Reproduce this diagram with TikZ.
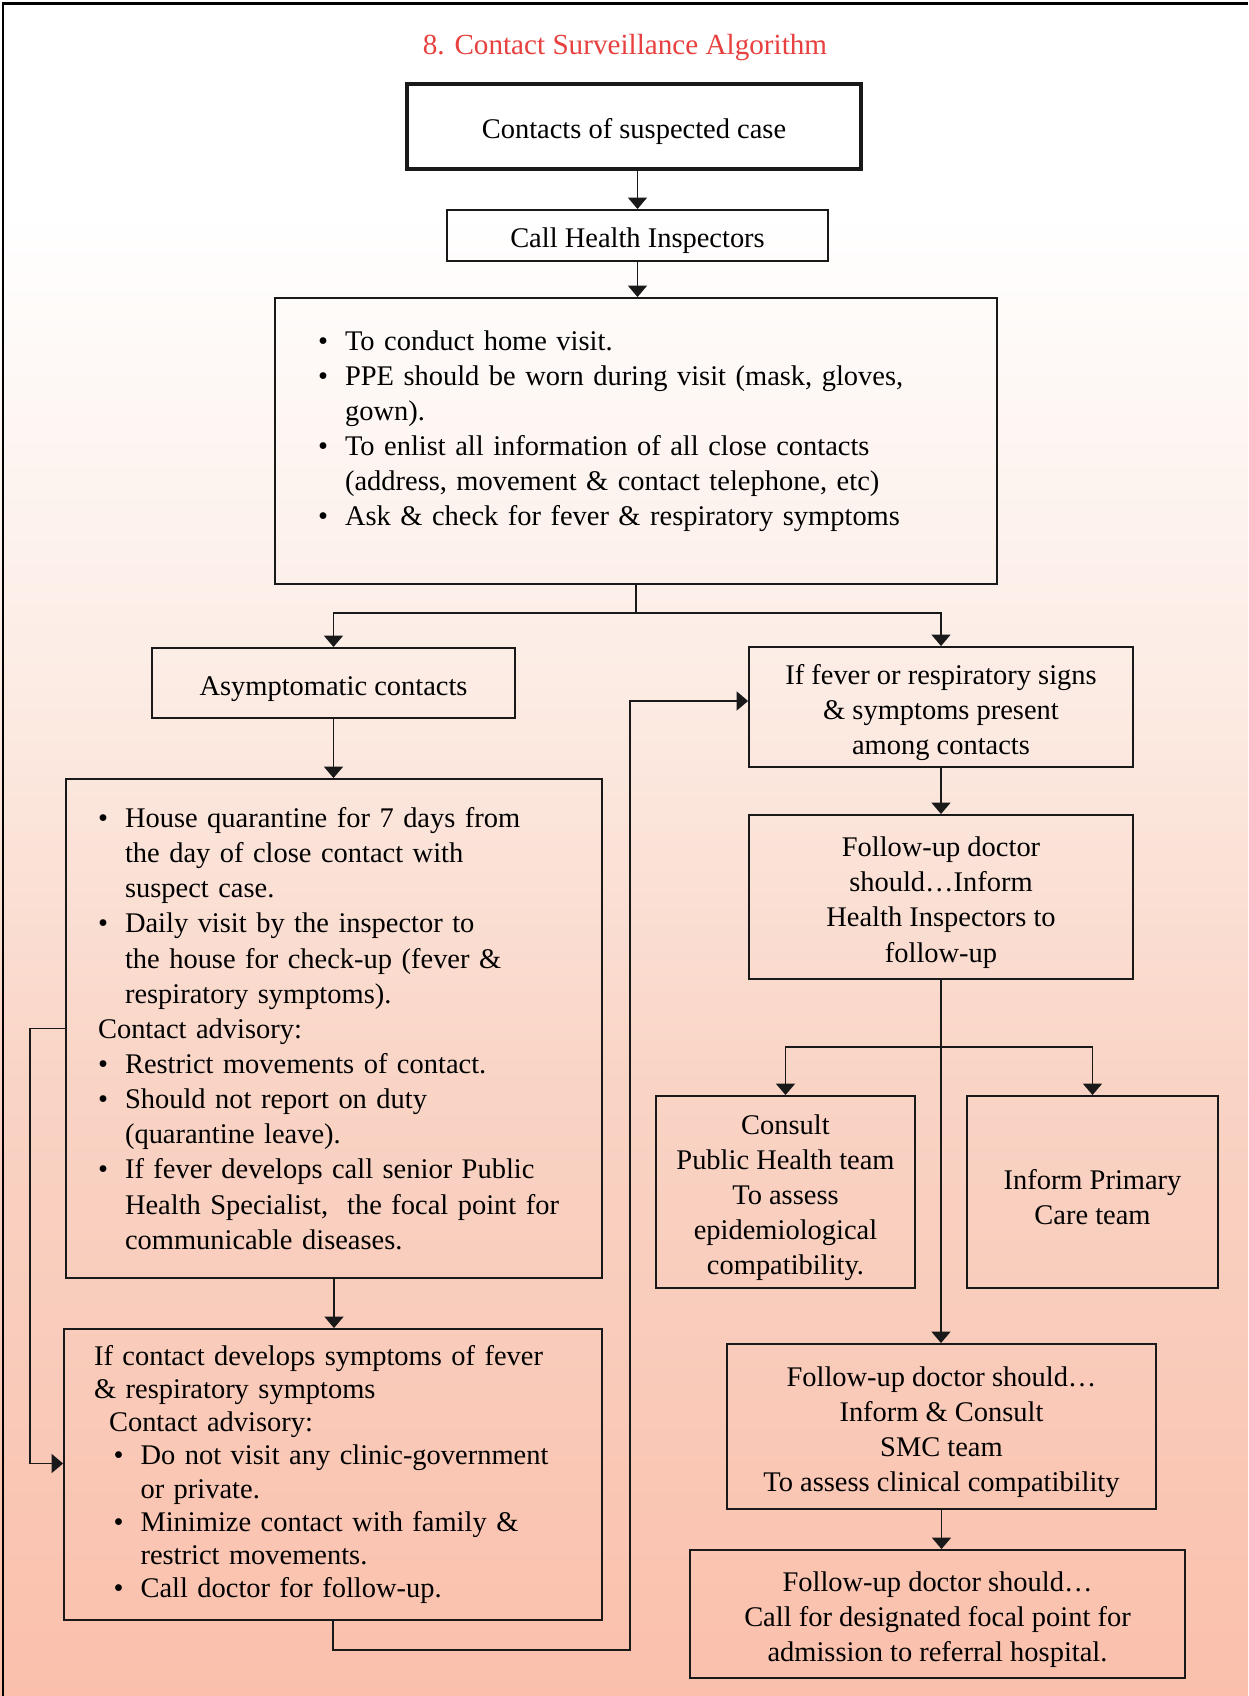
\documentclass[tikz,border=0pt]{standalone}
\usepackage{fontspec}
\setmainfont{Liberation Serif}
\usepackage{xcolor}
\usepackage{tikz}
\usetikzlibrary{arrows.meta}
\definecolor{titlered}{RGB}{232,64,62}
\definecolor{peachA}{RGB}{252,235,227}
\definecolor{peachB}{RGB}{249,211,196}
\definecolor{peachC}{RGB}{250,192,172}
\newcommand{\bu}{\makebox[0.54cm][l]{\textbullet}}
\newcommand{\hg}{\hspace*{0.54cm}}
\newcommand{\up}{\rule{0pt}{17.5pt}}
\tikzstyle{mybox} = [draw=black!90, line width=1.1pt, rectangle, align=center,
inner sep=0pt, font=\fontsize{16.2}{20}\selectfont]
\tikzstyle{listbox} = [mybox, align=left]
\tikzstyle{mytitle} = [text=titlered, font=\fontsize{16.6}{20}\selectfont]
\tikzstyle{myline} = [draw=black!90, line width=1.1pt]
\tikzstyle{myarrow} = [myline, -{Triangle[width=0.38cm,length=0.23cm]}]

\begin{document}
\begin{tikzpicture}[x=0.02cm, y=-0.02cm]
\useasboundingbox (0,0) rectangle (1248,1696);
\fill[white] (0,0) rectangle (1248,210);
\shade[top color=white, bottom color=peachA] (0,209) rectangle (1248,700);
\shade[top color=peachA, bottom color=peachB] (0,699) rectangle (1248,1100);
\shade[top color=peachB, bottom color=peachC] (0,1099) rectangle (1248,1696);
\draw[line width=0.06cm] (3,1696) -- (3,4) -- (1248,4);

\node[mytitle] (title) at (625,48) {8. Contact Surveillance Algorithm};

\node[mybox, line width=2.6pt, minimum width=9.08cm, minimum height=1.7cm] (contacts) at (634,126.5) {\up Contacts of suspected case};
\node[mybox, minimum width=7.62cm, minimum height=1.02cm] (inspect) at (637.5,235.5) {\up Call Health Inspectors};
\node[listbox, text width=12.72cm, inner xsep=0.86cm, minimum height=5.72cm] (visit) at (636,441) {%
\bu To conduct home visit.\\
\bu PPE should be worn during visit (mask, gloves,\\
\hg gown).\\
\bu To enlist all information of all close contacts\\
\hg (address, movement \& contact telephone, etc)\\
\bu Ask \& check for fever \& respiratory symptoms\rule[-0.52cm]{0pt}{0.52cm}};

\node[mybox, minimum width=7.26cm, minimum height=1.4cm] (asym) at (333.5,683) {\up Asymptomatic contacts};
\node[mybox, minimum width=7.68cm, minimum height=2.4cm] (fever) at (941,707) {\up If fever or respiratory signs\\\& symptoms present\\among contacts};

\node[listbox, text width=9.44cm, inner xsep=0.64cm, minimum height=9.98cm] (quarantine) at (334,1028.5) {%
\bu House quarantine for 7 days from\\
\hg the day of close contact with\\
\hg suspect case.\\
\bu Daily visit by the inspector to\\
\hg the house for check-up (fever \&\\
\hg respiratory symptoms).\\
Contact advisory:\\
\bu Restrict movements of contact.\\
\bu Should not report on duty\\
\hg (quarantine leave).\\
\bu If fever develops call senior Public\\
\hg Health Specialist,\ \ the focal point for\\
\hg communicable diseases.};

\node[listbox, text width=9.56cm, inner xsep=0.6cm, minimum height=5.82cm, font=\fontsize{16.2}{18.8}\selectfont] (develops) at (333,1474.5) {%
If contact develops symptoms of fever\\
\& respiratory symptoms\\
\hspace*{0.3cm}Contact advisory:\\
\hspace*{0.39cm}\bu Do not visit any clinic-government\\
\hspace*{0.93cm}or private.\\
\hspace*{0.39cm}\bu Minimize contact with family \&\\
\hspace*{0.93cm}restrict movements.\\
\hspace*{0.39cm}\bu Call doctor for follow-up.};

\node[mybox, minimum width=7.68cm, minimum height=3.28cm] (followup) at (941,897) {\up Follow-up doctor\\should…Inform\\Health Inspectors to\\follow-up};
\node[mybox, minimum width=5.18cm, minimum height=3.84cm] (consult) at (785.5,1192) {\up Consult\\Public Health team\\To assess\\epidemiological\\compatibility.};
\node[mybox, minimum width=5.02cm, minimum height=3.84cm] (primary) at (1092.5,1192) {\up Inform Primary\\Care team};
\node[mybox, minimum width=8.58cm, minimum height=3.3cm] (smc) at (941.5,1426.5) {\up Follow-up doctor should…\\Inform \& Consult\\SMC team\\To assess clinical compatibility};
\node[mybox, minimum width=9.9cm, minimum height=2.56cm] (referral) at (937.5,1614) {\up Follow-up doctor should…\\Call for designated focal point for\\admission to referral hospital.};

\coordinate (split) at (635,613);
\coordinate (fork) at (941,1047);
\coordinate (loopturn) at (630,1650);

\draw[myarrow] (inspect.north |- contacts.south) -- (inspect.north);
\draw[myarrow] (inspect.south) -- (inspect.south |- visit.north);
\draw[myline] (visit.south) -- (visit.south |- split);
\draw[myarrow] (split) -| (asym.north);
\draw[myarrow] (split) -| (fever.north);
\draw[myarrow] (asym.south) -- (asym.south |- quarantine.north);
\draw[myarrow] (quarantine.south) -- (quarantine.south |- develops.north);
\draw[myarrow] (quarantine.west) -- ++(-35,0) |- ([yshift=0.22cm]develops.west);
\draw[myarrow] (develops.south) |- (loopturn) |- ([yshift=0.12cm]fever.west);
\draw[myarrow] (fever.south) -- (fever.south |- followup.north);
\draw[myarrow] (followup.south) -- (followup.south |- smc.north);
\draw[myarrow] (fork) -| (consult.north);
\draw[myarrow] (fork) -| (primary.north);
\draw[myarrow] (smc.south) -- (smc.south |- referral.north);
\end{tikzpicture}
\end{document}
